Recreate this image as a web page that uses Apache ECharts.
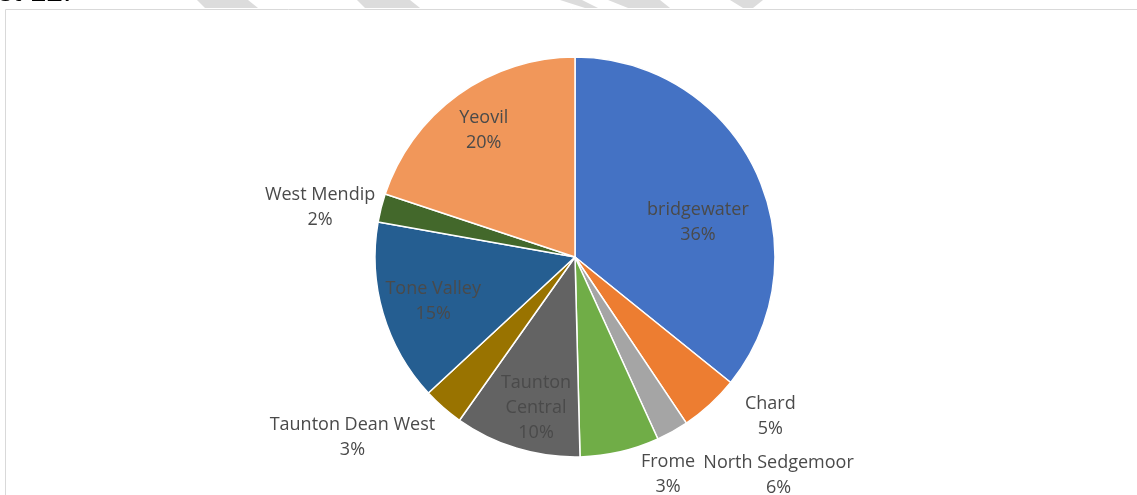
<!DOCTYPE html>
<html>
<head>
<meta charset="utf-8">
<script src="https://cdn.jsdelivr.net/npm/echarts@6/dist/echarts.min.js"></script>
<style>
html,body{margin:0;padding:0;background:#fff;}
#c{width:1137px;height:495px;}
</style>
</head>
<body>
<div id="c"></div>
<script>
const categories = ['bridgewater','Chard','Frome','North Sedgemoor','Taunton Central','Taunton Dean West','Tone Valley','West Mendip','Yeovil'];
const displayNames = ['bridgewater','Chard','Frome','North Sedgemoor','Taunton\nCentral','Taunton Dean West','Tone Valley','West Mendip','Yeovil'];
const values = [35.8, 4.8, 2.6, 6.4, 10.2, 3.3, 14.7, 2.3, 19.9];
const colors = ['#4472C4','#ED7D31','#A5A5A5','#70AD47','#636363','#997300','#255E91','#43682B','#F1975A'];
const insideFlags = [true,false,false,false,true,false,true,false,true];
// label nudges (dx, dy) relative to library-computed positions
const labelNudge = [[30,10],[35,-10],[-24,17],[147,-6],[-9,52],[-66,7],[-43,15],[-27,7],[-31,-43]];

const chart = echarts.init(document.getElementById('c'), null, {renderer:'canvas'});
const font = '"Open Sans", "Noto Sans", sans-serif';

const data = categories.map((n,i)=>({
  name: n,
  value: values[i],
  itemStyle: {color: colors[i]},
  label: {position: insideFlags[i] ? 'inside' : 'outside'},
  labelLine: {show:false, length: 30, length2: 0}
}));

chart.setOption({
  backgroundColor: '#ffffff',
  animation: false,
  graphic: [
    {type:'text', left: -2, top: -22, style:{text:'st 12.', font:'30px "Liberation Sans", Arial, sans-serif', fill:'#000'}},
    {type:'polygon', shape:{points:[[197,0],[248,0],[258,8],[205,8]]}, style:{fill:'#dcdcdc'}},
    {type:'polygon', shape:{points:[[357,0],[410,0],[420,8],[365,8]]}, style:{fill:'#dcdcdc'}},
    {type:'polygon', shape:{points:[[560,0],[582,0],[598,8],[585,8]]}, style:{fill:'#dcdcdc'}},
    {type:'polygon', shape:{points:[[608,0],[660,0],[670,8],[628,8]]}, style:{fill:'#dcdcdc'}},
    {type:'polygon', shape:{points:[[730,0],[763,0],[753,8],[743,8]]}, style:{fill:'#dcdcdc'}},
    {type:'rect', shape:{x:5.5, y:9.5, width:1200, height:600}, style:{fill:'none', stroke:'#d9d9d9', lineWidth:1}}
  ],
  series: [{
    type: 'pie',
    center: [575, 257],
    radius: [0, 200],
    startAngle: 90,
    clockwise: true,
    avoidLabelOverlap: false,
    percentPrecision: 0,
    itemStyle: {borderColor:'#ffffff', borderWidth:1.5},
    label: {
      show: true,
      formatter: p => displayNames[p.dataIndex] + '\n' + p.percent + '%',
      color: '#4a4a4a',
      fontFamily: font,
      fontSize: 18,
      lineHeight: 25,
      align: 'center'
    },
    labelLayout: function(p){
      const n = labelNudge[p.dataIndex];
      return {dx: n[0], dy: n[1], align: 'center', verticalAlign: 'middle'};
    },
    data: data
  }]
});
</script>
</body>
</html>
